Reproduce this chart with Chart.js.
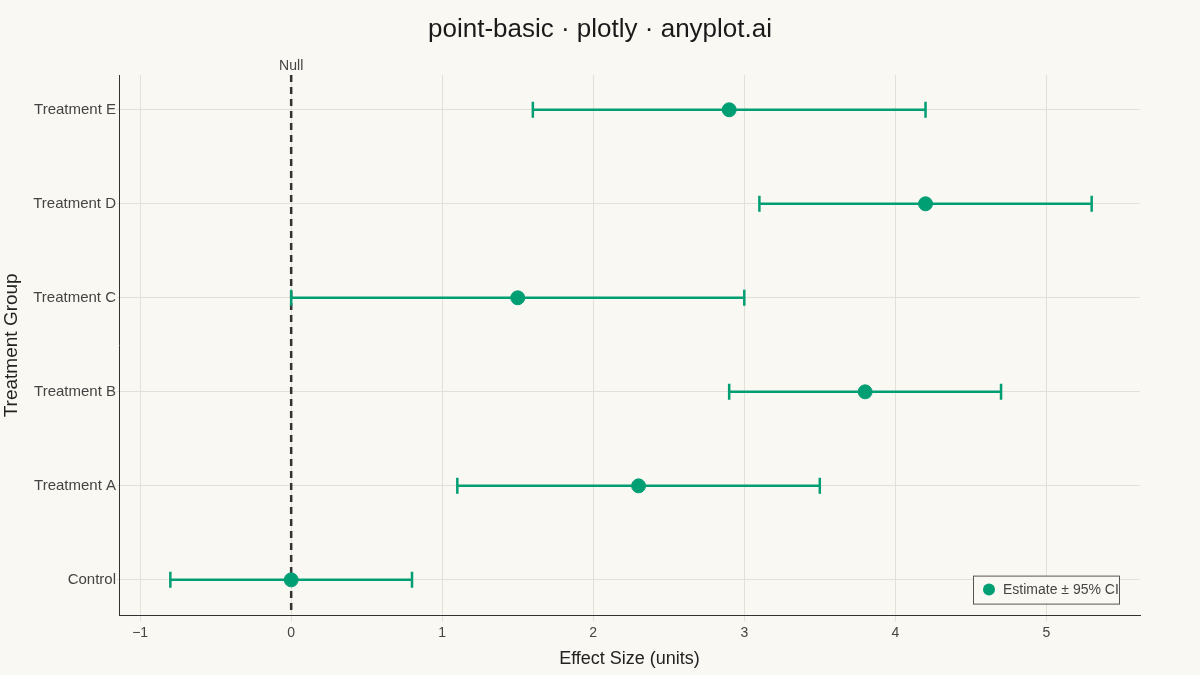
<!DOCTYPE html>
<html>
<head>
<meta charset="utf-8">
<script src="https://cdn.jsdelivr.net/npm/chart.js@4"></script>
<style>
  html, body { margin: 0; padding: 0; background: #faf8f2; }
  #wrap { width: 1200px; height: 675px; position: relative; }
</style>
</head>
<body>
<div id="wrap"><canvas id="c"></canvas></div>
<script>
// 데이터
const groups = ['Control', 'Treatment A', 'Treatment B', 'Treatment C', 'Treatment D', 'Treatment E'];
const estimates = [0, 2.3, 3.8, 1.5, 4.2, 2.9];
const ciLow = [-0.8, 1.1, 2.9, 0, 3.1, 1.6];
const ciHigh = [0.8, 3.5, 4.7, 3.0, 5.3, 4.2];
const xTicks = [-1, 0, 1, 2, 3, 4, 5];
const titleText = 'point-basic · plotly · anyplot.ai';

const green = '#009e73';
const font = 'Liberation Sans, Arial, sans-serif';

// 오차막대 + 기준선 + 범례 + 제목 그리기
const errorBarPlugin = {
    id: 'errorBars',
    beforeDatasetsDraw(chart) {
        const { ctx, scales: { x, y }, chartArea } = chart;
        ctx.save();
        // 제목 (캔버스 중앙)
        ctx.fillStyle = '#1a1a1a';
        ctx.font = '26px ' + font;
        ctx.textAlign = 'center';
        ctx.textBaseline = 'middle';
        ctx.fillText(titleText, chart.width / 2, 30);

        // 기준선 (x = 0)
        const x0 = x.getPixelForValue(0);
        ctx.strokeStyle = '#333';
        ctx.lineWidth = 2.5;
        ctx.setLineDash([7, 5]);
        ctx.beginPath();
        ctx.moveTo(x0, chartArea.top);
        ctx.lineTo(x0, chartArea.bottom);
        ctx.stroke();
        ctx.setLineDash([]);
        ctx.fillStyle = '#444';
        ctx.font = '14px ' + font;
        ctx.textAlign = 'center';
        ctx.textBaseline = 'bottom';
        ctx.fillText('Null', x0, chartArea.top - 2);

        // 오차막대
        ctx.strokeStyle = green;
        ctx.lineWidth = 2.5;
        groups.forEach((g, i) => {
            const py = y.getPixelForValue(i);
            const a = x.getPixelForValue(ciLow[i]);
            const b = x.getPixelForValue(ciHigh[i]);
            ctx.beginPath();
            ctx.moveTo(a, py); ctx.lineTo(b, py);
            ctx.moveTo(a, py - 8); ctx.lineTo(a, py + 8);
            ctx.moveTo(b, py - 8); ctx.lineTo(b, py + 8);
            ctx.stroke();
        });
        ctx.restore();
    },
    afterDraw(chart) {
        const { ctx, chartArea } = chart;
        ctx.save();
        const w = 146, h = 28;
        const bx = chartArea.right - 21 - w, by = chartArea.bottom - 40;
        ctx.fillStyle = '#faf8f2';
        ctx.fillRect(bx, by, w, h);
        ctx.strokeStyle = '#555';
        ctx.lineWidth = 1;
        ctx.strokeRect(bx + 0.5, by + 0.5, w, h);
        ctx.fillStyle = green;
        ctx.beginPath();
        ctx.arc(bx + 16, by + h / 2, 6, 0, Math.PI * 2);
        ctx.fill();
        ctx.fillStyle = '#444';
        ctx.font = '14px ' + font;
        ctx.textAlign = 'left';
        ctx.textBaseline = 'middle';
        ctx.fillText('Estimate ± 95% CI', bx + 30, by + h / 2 + 1);
        ctx.restore();
    }
};

new Chart(document.getElementById('c'), {
    type: 'scatter',
    data: {
        datasets: [{
            label: 'Estimate ± 95% CI',
            data: estimates.map((v, i) => ({ x: v, y: i })),
            backgroundColor: green,
            borderColor: green,
            pointRadius: 7,
            pointHoverRadius: 7
        }]
    },
    options: {
        responsive: true,
        maintainAspectRatio: false,
        animation: false,
        layout: { padding: { top: 75, right: 60, bottom: 1, left: 0 } },
        plugins: {
            legend: { display: false },
            tooltip: { enabled: false },
            title: { display: false }
        },
        scales: {
            x: {
                type: 'linear',
                min: -1.14,
                max: 5.62,
                afterBuildTicks: s => { s.ticks = xTicks.map(v => ({ value: v })); },
                ticks: {
                    color: '#444',
                    font: { family: font, size: 14 },
                    callback: v => (v < 0 ? '\u2212' + Math.abs(v) : v)
                },
                grid: { color: '#e3e0d8', drawTicks: true, tickLength: 6 },
                border: { display: true, color: '#333' },
                title: {
                    display: true,
                    text: 'Effect Size (units)',
                    color: '#222',
                    font: { family: font, size: 18 }
                }
            },
            y: {
                type: 'linear',
                min: -0.38,
                max: 5.37,
                afterBuildTicks: s => { s.ticks = groups.map((g, i) => ({ value: i })); },
                afterFit: s => { s.width = 119; },
                ticks: {
                    color: '#444',
                    font: { family: font, size: 15 },
                    padding: 1,
                    callback: v => groups[v]
                },
                grid: { color: '#e3e0d8', tickLength: 2 },
                border: { display: true, color: '#333' },
                title: {
                    display: true,
                    text: 'Treatment Group',
                    color: '#222',
                    font: { family: font, size: 19 },
                    padding: 0
                }
            }
        }
    },
    plugins: [errorBarPlugin]
});
</script>
</body>
</html>
